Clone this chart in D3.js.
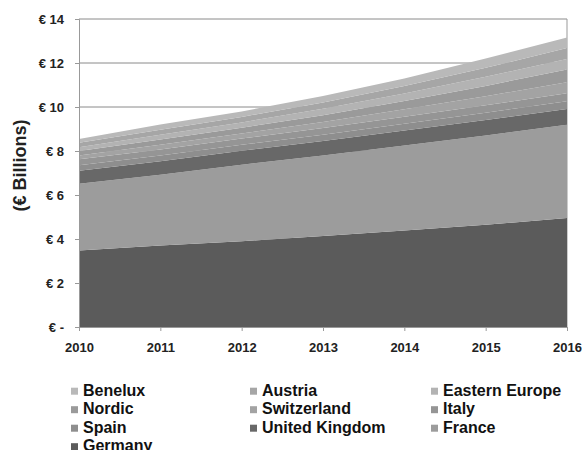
<!DOCTYPE html>
<html><head><meta charset="utf-8">
<script src="https://cdn.jsdelivr.net/npm/d3@7"></script>
<style>body{margin:0;background:#fff}svg{display:block}</style>
</head><body>
<svg id="c" width="582" height="450"></svg>
<script>
const years = [2010, 2011, 2012, 2013, 2014, 2015, 2016];
// stack order bottom -> top
const seriesNames = ["Germany","France","United Kingdom","Spain","Italy","Switzerland","Nordic","Eastern Europe","Austria","Benelux"];
const germany       = [3.48, 3.70, 3.90, 4.14, 4.39, 4.65, 4.95];
const france        = [3.03, 3.22, 3.48, 3.65, 3.86, 4.06, 4.24];
const unitedKingdom = [0.59, 0.61, 0.63, 0.66, 0.68, 0.70, 0.72];
const spain         = [0.25, 0.26, 0.27, 0.29, 0.31, 0.33, 0.35];
const italy         = [0.27, 0.28, 0.29, 0.30, 0.32, 0.34, 0.36];
const switzerland   = [0.18, 0.21, 0.23, 0.28, 0.34, 0.41, 0.50];
const nordic        = [0.20, 0.24, 0.26, 0.31, 0.37, 0.47, 0.59];
const easternEurope = [0.17, 0.22, 0.24, 0.29, 0.34, 0.41, 0.47];
const austria       = [0.20, 0.23, 0.25, 0.29, 0.34, 0.41, 0.50];
const benelux       = [0.18, 0.23, 0.25, 0.29, 0.35, 0.42, 0.48];
const seriesValues = [germany, france, unitedKingdom, spain, italy, switzerland, nordic, easternEurope, austria, benelux];
const seriesColors = ["#5b5b5b","#9c9c9c","#686868","#8e8e8e","#959595","#a3a3a3","#9a9a9a","#b3b3b3","#a6a6a6","#b9b9b9"];
const yTicks = [0, 2, 4, 6, 8, 10, 12, 14];
const yTickLabels = ["€ -", "€ 2", "€ 4", "€ 6", "€ 8", "€ 10", "€ 12", "€ 14"];
const legendOrder = ["Benelux","Austria","Eastern Europe","Nordic","Switzerland","Italy","Spain","United Kingdom","France","Germany"];

const FONT = "Liberation Sans, Arial, sans-serif";
const svg = d3.select("#c");
const m = {l:79, r:15, t:19, b:123};
const W = 582, H = 450;
const x = d3.scaleLinear().domain([2010, 2016]).range([m.l, W - m.r]);
const y = d3.scaleLinear().domain([0, 14]).range([H - m.b, m.t]);

const table = years.map((yr, i) => {
  const o = {year: yr};
  seriesNames.forEach((n, k) => o[n] = seriesValues[k][i]);
  return o;
});
const stacked = d3.stack().keys(seriesNames)(table);
const color = d3.scaleOrdinal().domain(seriesNames).range(seriesColors);

// gridlines
svg.append("g").selectAll("line").data(yTicks.filter(d => d > 0)).join("line")
  .attr("x1", m.l).attr("x2", W - m.r)
  .attr("y1", d => y(d)).attr("y2", d => y(d))
  .attr("stroke", "#8a8a8a").attr("stroke-width", 1);
// right border
svg.append("line").attr("x1", W - m.r).attr("x2", W - m.r).attr("y1", y(14)).attr("y2", y(0))
  .attr("stroke", "#999");

const area = d3.area().x(d => x(d.data.year)).y0(d => y(d[0])).y1(d => y(d[1]));
svg.append("g").selectAll("path").data(stacked).join("path")
  .attr("d", area).attr("fill", d => color(d.key));

// axes
const yAxis = d3.axisLeft(y).tickValues(yTicks).tickFormat((d, i) => yTickLabels[i]).tickSize(4).tickPadding(11);
const gy = svg.append("g").attr("transform", `translate(${m.l},0)`).call(yAxis);
gy.select(".domain").attr("stroke", "#999");
gy.selectAll(".tick line").attr("stroke", "#999");
gy.selectAll("text").attr("font-family", FONT).attr("font-weight", "bold")
  .attr("font-size", "13px").attr("fill", "#222");

const xAxis = d3.axisBottom(x).tickValues(years).tickFormat(d3.format("d")).tickSize(4).tickPadding(12);
const gx = svg.append("g").attr("transform", `translate(0,${y(0)})`).call(xAxis);
gx.select(".domain").attr("stroke", "#999");
gx.selectAll(".tick line").attr("stroke", "#999");
gx.selectAll("text").attr("font-family", FONT).attr("font-weight", "bold")
  .attr("font-size", "13px").attr("fill", "#222");

// y title
svg.append("text").attr("transform", `translate(25.5,165.5) rotate(-90)`)
  .attr("text-anchor", "middle").attr("font-family", FONT)
  .attr("font-weight", "bold").attr("font-size", "18px").attr("fill", "#222").text("(€ Billions)");

// legend
const colX = [71, 250, 431];
const leg = svg.append("g");
legendOrder.forEach((n, i) => {
  const cx = colX[i % 3], base = 395.7 + Math.floor(i / 3) * 18.5;
  leg.append("rect").attr("x", cx).attr("y", base - 8).attr("width", 7).attr("height", 7).attr("fill", color(n));
  leg.append("text").attr("x", cx + 12).attr("y", base)
    .attr("font-family", FONT).attr("font-weight", "bold")
    .attr("font-size", "16px").attr("fill", "#111").text(n);
});
</script>
</body></html>
